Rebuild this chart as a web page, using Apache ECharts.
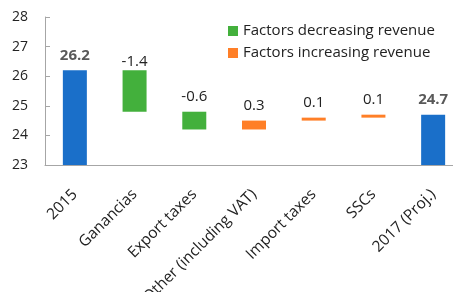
<!DOCTYPE html>
<html>
<head>
<meta charset="utf-8">
<script src="https://cdn.jsdelivr.net/npm/echarts@6/dist/echarts.min.js"></script>
<style>html,body{margin:0;padding:0;background:#fff;}#c{width:453px;height:292px;}</style>
</head>
<body>
<div id="c"></div>
<script>
var categories = ['2015', 'Ganancias', 'Export taxes', 'Other (including VAT)', 'Import taxes', 'SSCs', '2017 (Proj.)'];
var changes = [26.2, -1.4, -0.6, 0.3, 0.1, 0.1, 24.7];
var isTotal = [true, false, false, false, false, false, true];
var yTicks = [23, 24, 25, 26, 27, 28];

var base = [], totals = [], dec = [], inc = [];
var running = 0;
for (var i = 0; i < changes.length; i++) {
  var v = changes[i];
  if (isTotal[i]) {
    base.push(0); totals.push(v); dec.push('-'); inc.push('-');
    running = v;
  } else if (v < 0) {
    running = +(running + v).toFixed(2);
    base.push(running); totals.push('-');
    // the first (largest) decrease label sits closer to its bar in the reference
    dec.push(i === 1 ? { value: -v, label: { distance: 1 } } : -v);
    inc.push('-');
  } else {
    base.push(running); totals.push('-'); dec.push('-'); inc.push(v);
    running = +(running + v).toFixed(2);
  }
}
var FONT = 'Open Sans';
var chart = echarts.init(document.getElementById('c'));
chart.setOption({
  animation: false,
  textStyle: { fontFamily: FONT },
  grid: { left: 45, top: 17, width: 418, height: 148, containLabel: false, outerBoundsMode: 'none' },
  legend: {
    orient: 'vertical', left: 223, top: 17, itemWidth: 10, itemHeight: 10, itemGap: 4,
    icon: 'rect',
    data: ['Factors decreasing revenue', 'Factors increasing revenue'],
    textStyle: { fontFamily: FONT, fontSize: 15, color: '#222', lineHeight: 18 }
  },
  xAxis: {
    type: 'category', data: categories,
    axisLine: { lineStyle: { color: '#a6a6a6', width: 1 } },
    axisTick: { show: false },
    axisLabel: { rotate: 45, interval: 0, margin: 27, fontSize: 15.5, color: '#222', fontFamily: FONT, verticalAlign: 'middle', hideOverlap: false }
  },
  yAxis: {
    type: 'value', min: yTicks[0], max: yTicks[yTicks.length - 1], interval: 1,
    axisLine: { show: true, lineStyle: { color: '#a6a6a6', width: 1 } },
    axisTick: { show: true, inside: true, length: 5, lineStyle: { color: '#a6a6a6' } },
    splitLine: { show: false },
    axisLabel: { margin: 17, fontSize: 14, color: '#222', fontFamily: FONT }
  },
  series: [
    { name: 'base', type: 'bar', stack: 'w', barWidth: 24, data: base,
      itemStyle: { color: 'transparent' }, silent: true },
    { name: 'Total', type: 'bar', stack: 'w', barWidth: 24, data: totals,
      itemStyle: { color: '#1a6fc9' },
      label: { show: true, position: 'top', distance: 7, fontSize: 15, fontWeight: 'bold', color: '#595959', fontFamily: FONT,
        formatter: function (p) { return p.value.toFixed(1); } } },
    { name: 'Factors decreasing revenue', type: 'bar', stack: 'w', barWidth: 24, data: dec,
      itemStyle: { color: '#43b03c' },
      label: { show: true, position: 'top', distance: 7, fontSize: 15, color: '#222', fontFamily: FONT,
        formatter: function (p) { return '-' + (+p.value).toFixed(1); } } },
    { name: 'Factors increasing revenue', type: 'bar', stack: 'w', barWidth: 24, data: inc,
      itemStyle: { color: '#ff7f27' },
      label: { show: true, position: 'top', distance: 7, fontSize: 15, color: '#222', fontFamily: FONT,
        formatter: function (p) { return p.value.toFixed(1); } } }
  ]
});
</script>
</body>
</html>
